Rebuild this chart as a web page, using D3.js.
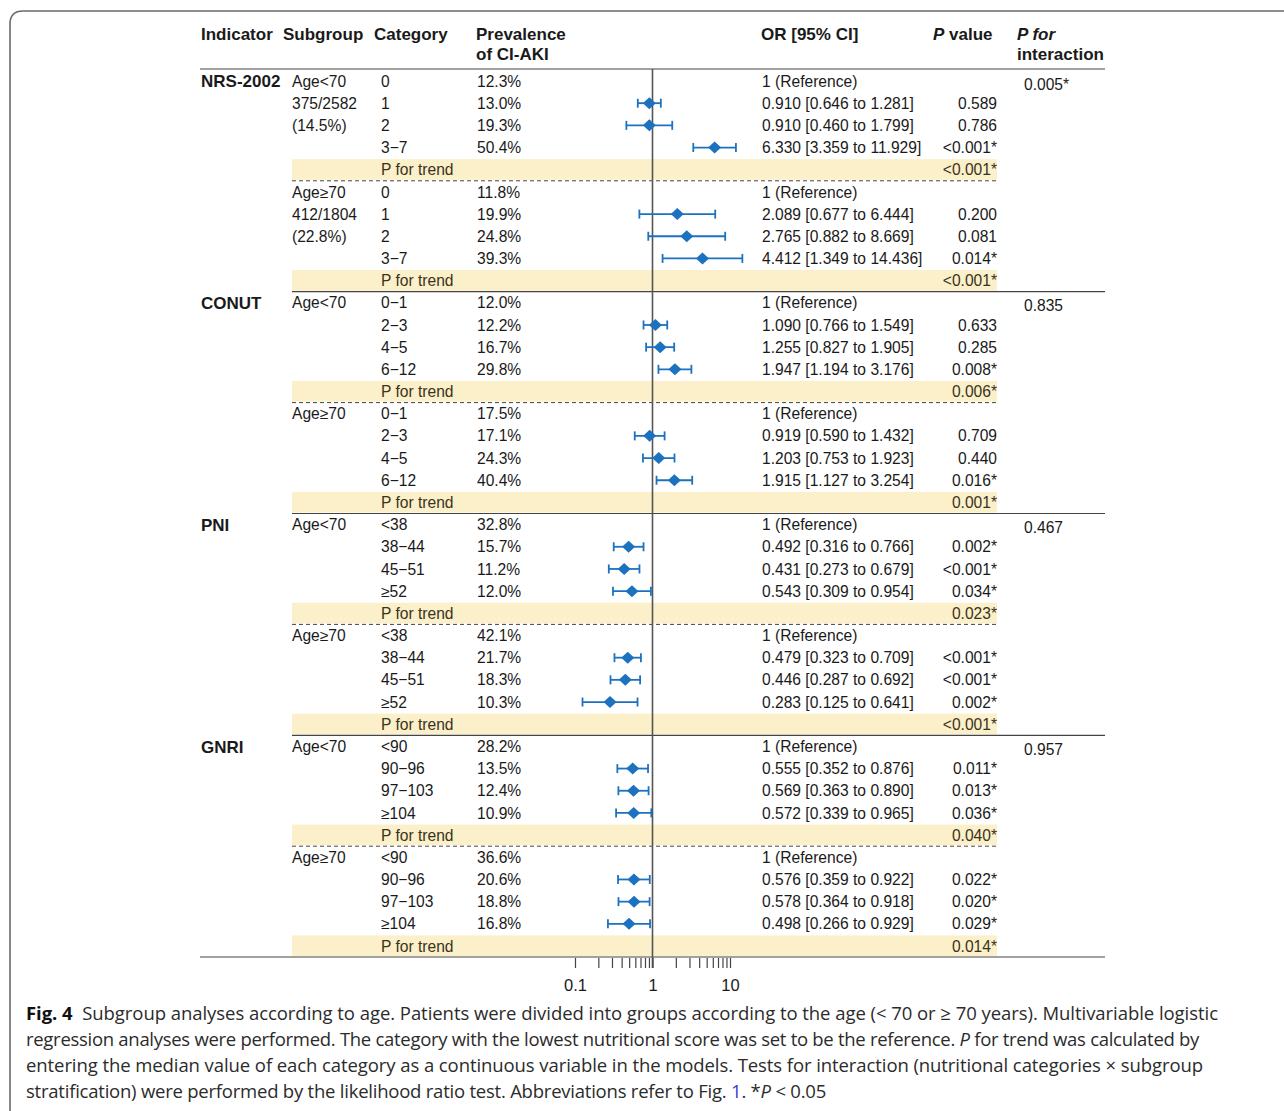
<!DOCTYPE html>
<html><head><meta charset="utf-8">
<script src="https://cdn.jsdelivr.net/npm/d3@7"></script>
<style>body{margin:0;background:#fff}svg{display:block}</style>
</head><body>
<svg id="c" width="1284" height="1111"></svg>
<script>
// ---------- data ----------
const indicators = ["NRS-2002", "CONUT", "PNI", "GNRI"];
const interactionP = ["0.005*", "0.835", "0.467", "0.957"];
const subgroupLabels = [
  [["Age<70", "375/2582", "(14.5%)"], ["Age≥70", "412/1804", "(22.8%)"]],
  [["Age<70"], ["Age≥70"]],
  [["Age<70"], ["Age≥70"]],
  [["Age<70"], ["Age≥70"]]
];
const categories = [
  ["0", "1", "2", "3−7"],
  ["0−1", "2−3", "4−5", "6−12"],
  ["<38", "38−44", "45−51", "≥52"],
  ["<90", "90−96", "97−103", "≥104"]
];
// prevalence per indicator, subgroup, category
const prevalence = [
  [["12.3%", "13.0%", "19.3%", "50.4%"], ["11.8%", "19.9%", "24.8%", "39.3%"]],
  [["12.0%", "12.2%", "16.7%", "29.8%"], ["17.5%", "17.1%", "24.3%", "40.4%"]],
  [["32.8%", "15.7%", "11.2%", "12.0%"], ["42.1%", "21.7%", "18.3%", "10.3%"]],
  [["28.2%", "13.5%", "12.4%", "10.9%"], ["36.6%", "20.6%", "18.8%", "16.8%"]]
];
// odds ratios (null = reference)
const orValues = [
  [[null, 0.910, 0.910, 6.330], [null, 2.089, 2.765, 4.412]],
  [[null, 1.090, 1.255, 1.947], [null, 0.919, 1.203, 1.915]],
  [[null, 0.492, 0.431, 0.543], [null, 0.479, 0.446, 0.283]],
  [[null, 0.555, 0.569, 0.572], [null, 0.576, 0.578, 0.498]]
];
const ciLow = [
  [[null, 0.646, 0.460, 3.359], [null, 0.677, 0.882, 1.349]],
  [[null, 0.766, 0.827, 1.194], [null, 0.590, 0.753, 1.127]],
  [[null, 0.316, 0.273, 0.309], [null, 0.323, 0.287, 0.125]],
  [[null, 0.352, 0.363, 0.339], [null, 0.359, 0.364, 0.266]]
];
const ciHigh = [
  [[null, 1.281, 1.799, 11.929], [null, 6.444, 8.669, 14.436]],
  [[null, 1.549, 1.905, 3.176], [null, 1.432, 1.923, 3.254]],
  [[null, 0.766, 0.679, 0.954], [null, 0.709, 0.692, 0.641]],
  [[null, 0.876, 0.890, 0.965], [null, 0.922, 0.918, 0.929]]
];
const pValues = [
  [["", "0.589", "0.786", "<0.001*"], ["", "0.200", "0.081", "0.014*"]],
  [["", "0.633", "0.285", "0.008*"], ["", "0.709", "0.440", "0.016*"]],
  [["", "0.002*", "<0.001*", "0.034*"], ["", "<0.001*", "<0.001*", "0.002*"]],
  [["", "0.011*", "0.013*", "0.036*"], ["", "0.022*", "0.020*", "0.029*"]]
];
const trendP = [
  ["<0.001*", "<0.001*"],
  ["0.006*", "0.001*"],
  ["0.023*", "<0.001*"],
  ["0.040*", "0.014*"]
];
const tickValues = [0.1, 0.2, 0.3, 0.4, 0.5, 0.6, 0.7, 0.8, 0.9, 1, 2, 3, 4, 5, 6, 7, 8, 9, 10];
const tickLabels = {0.1: "0.1", 1: "1", 10: "10"};

// ---------- build rows ----------
const rows = [];
indicators.forEach((ind, i) => {
  [0, 1].forEach(s => {
    categories[i].forEach((cat, k) => {
      rows.push({type: "data", i, s, k, cat, prev: prevalence[i][s][k],
        or: orValues[i][s][k], lo: ciLow[i][s][k], hi: ciHigh[i][s][k], p: pValues[i][s][k]});
    });
    rows.push({type: "trend", i, s, p: trendP[i][s]});
  });
});

const svg = d3.select("#c");
const x = d3.scaleLog().domain([0.1, 10]).range([575, 730]);
const y = d3.scaleLinear().domain([0, rows.length - 1]).range([81, 946]);
const rowH = y(1) - y(0);

const font = "'Liberation Sans', Arial, sans-serif";
const txtColor = "#1a1a1a";
const blue = "#1c72bf";

// outer frame
svg.append("path")
  .attr("d", "M10,1200 L10,24 Q10,11 23,11 L1300,11")
  .attr("fill", "none").attr("stroke", "#6b6b6b").attr("stroke-width", 1.6);

const g = svg.append("g").attr("font-family", font);

// trend bands
rows.forEach((r, idx) => {
  if (r.type === "trend") {
    g.append("rect").attr("x", 292).attr("width", 997 - 292)
      .attr("y", y(idx) - rowH / 2 + 0.5).attr("height", rowH - 1.5)
      .attr("fill", "#fbf0c9");
  }
});

// separators
rows.forEach((r, idx) => {
  if (r.type === "trend") {
    const yy = y(idx) + rowH / 2;
    if (r.s === 0) {
      g.append("line").attr("x1", 292).attr("x2", 997).attr("y1", yy).attr("y2", yy)
        .attr("stroke", "#444").attr("stroke-width", 1).attr("stroke-dasharray", "4,3");
    } else if (r.i < indicators.length - 1) {
      g.append("line").attr("x1", 292).attr("x2", 1105).attr("y1", yy).attr("y2", yy)
        .attr("stroke", "#444").attr("stroke-width", 1.2);
    }
  }
});

// header
const hdr = g.append("g").attr("font-weight", "bold").attr("font-size", 17).attr("fill", txtColor);
hdr.append("text").attr("x", 201).attr("y", 40).text("Indicator");
hdr.append("text").attr("x", 283).attr("y", 40).text("Subgroup");
hdr.append("text").attr("x", 374).attr("y", 40).text("Category");
hdr.append("text").attr("x", 476).attr("y", 40).text("Prevalence");
hdr.append("text").attr("x", 476).attr("y", 60).text("of CI-AKI");
hdr.append("text").attr("x", 761).attr("y", 40).text("OR [95% CI]");
const pv = hdr.append("text").attr("x", 933).attr("y", 40);
pv.append("tspan").attr("font-style", "italic").text("P");
pv.append("tspan").text(" value");
hdr.append("text").attr("x", 1017).attr("y", 40).attr("font-style", "italic").text("P for");
hdr.append("text").attr("x", 1017).attr("y", 60).text("interaction");

// top & bottom rules
g.append("line").attr("x1", 200).attr("x2", 1105).attr("y1", 69).attr("y2", 69).attr("stroke", "#444").attr("stroke-width", 1.2);
g.append("line").attr("x1", 200).attr("x2", 1105).attr("y1", 957).attr("y2", 957).attr("stroke", "#444").attr("stroke-width", 1.2);

// body text
const body = g.append("g").attr("font-size", 15.6).attr("fill", txtColor);
rows.forEach((r, idx) => {
  const yy = y(idx);
  const t = (xx, s, anchor, yOff) => body.append("text").attr("x", xx).attr("y", yy + (yOff || 0)).attr("dy", "0.36em")
    .attr("text-anchor", anchor || "start").text(s);
  if (r.type === "data") {
    if (r.s === 0 && r.k === 0) {
      body.append("text").attr("x", 201).attr("y", yy).attr("dy", "0.36em")
        .attr("font-weight", "bold").attr("font-size", 17).text(indicators[r.i]);
      t(1024, interactionP[r.i], "start", 3);
    }
    const lbl = subgroupLabels[r.i][r.s];
    if (r.k < lbl.length) t(292, lbl[r.k]);
    t(381, r.cat);
    t(477, r.prev);
    if (r.or === null) t(762, "1 (Reference)");
    else t(762, `${r.or.toFixed(3)} [${r.lo.toFixed(3)} to ${r.hi.toFixed(3)}]`);
    if (r.p) t(997, r.p, "end");
  } else {
    t(381, "P for trend").attr("fill", "#3a3320");
    t(997, r.p, "end").attr("fill", "#3a3320");
  }
});

// reference line
g.append("line").attr("x1", x(1)).attr("x2", x(1)).attr("y1", 69).attr("y2", 968)
  .attr("stroke", "#555").attr("stroke-width", 1.6);

// forest marks
const marks = g.append("g");
rows.forEach((r, idx) => {
  if (r.type !== "data" || r.or === null) return;
  const yy = y(idx);
  const mg = marks.append("g").attr("stroke", blue).attr("fill", blue).attr("stroke-width", 1.8);
  mg.append("line").attr("x1", x(r.lo)).attr("x2", x(r.hi)).attr("y1", yy).attr("y2", yy);
  [r.lo, r.hi].forEach(v => mg.append("line").attr("x1", x(v)).attr("x2", x(v))
    .attr("y1", yy - 4.5).attr("y2", yy + 4.5));
  const cx = x(r.or);
  mg.append("path").attr("stroke", "none")
    .attr("d", `M${cx - 6.5},${yy} L${cx},${yy - 6} L${cx + 6.5},${yy} L${cx},${yy + 6} Z`);
});

// axis
const axis = d3.axisBottom(x).tickValues(tickValues).tickSize(10)
  .tickFormat(d => tickLabels[d] || "");
const ax = svg.append("g").attr("transform", "translate(0,958)").call(axis);
ax.select(".domain").remove();
ax.selectAll(".tick line").attr("stroke", "#444").attr("stroke-width", 1.2);
ax.selectAll(".tick text").attr("font-family", font).attr("font-size", 16.5)
  .attr("fill", txtColor).attr("dy", "1.2em");

// caption
const cap = svg.append("g").attr("font-family", "'Open Sans', 'Noto Sans', sans-serif")
  .attr("font-size", 18.5).attr("fill", "#2b2b2b");
const capLines = [
  {y: 1020, w: 1192, parts: [["Fig. 4", "b"], ["\u00a0 Subgroup analyses according to age. Patients were divided into groups according to the age (< 70 or ≥ 70 years). Multivariable logistic"]]},
  {y: 1046, w: 1173, parts: [["regression analyses were performed. The category with the lowest nutritional score was set to be the reference. "], ["P", "i"], [" for trend was calculated by"]]},
  {y: 1072, w: 1177, parts: [["entering the median value of each category as a continuous variable in the models. Tests for interaction (nutritional categories × subgroup"]]},
  {y: 1098, w: 800, parts: [["stratification) were performed by the likelihood ratio test. Abbreviations refer to Fig. "], ["1", "blue"], [". *"], ["P", "i"], [" < 0.05"]]}
];
capLines.forEach(l => {
  const t = cap.append("text").attr("x", 26).attr("y", l.y);
  let nChars = 0;
  l.parts.forEach(([s, st]) => {
    nChars += s.length;
    const sp = t.append("tspan").text(s);
    if (st === "b") sp.attr("font-weight", "bold").attr("fill", "#111");
    if (st === "i") sp.attr("font-style", "italic");
    if (st === "blue") sp.attr("fill", "#3b3bd6");
  });
  const natural = t.node().getComputedTextLength();
  const ls = (l.w - natural) / nChars;
  t.attr("letter-spacing", ls.toFixed(3));
});
</script>
</body></html>
